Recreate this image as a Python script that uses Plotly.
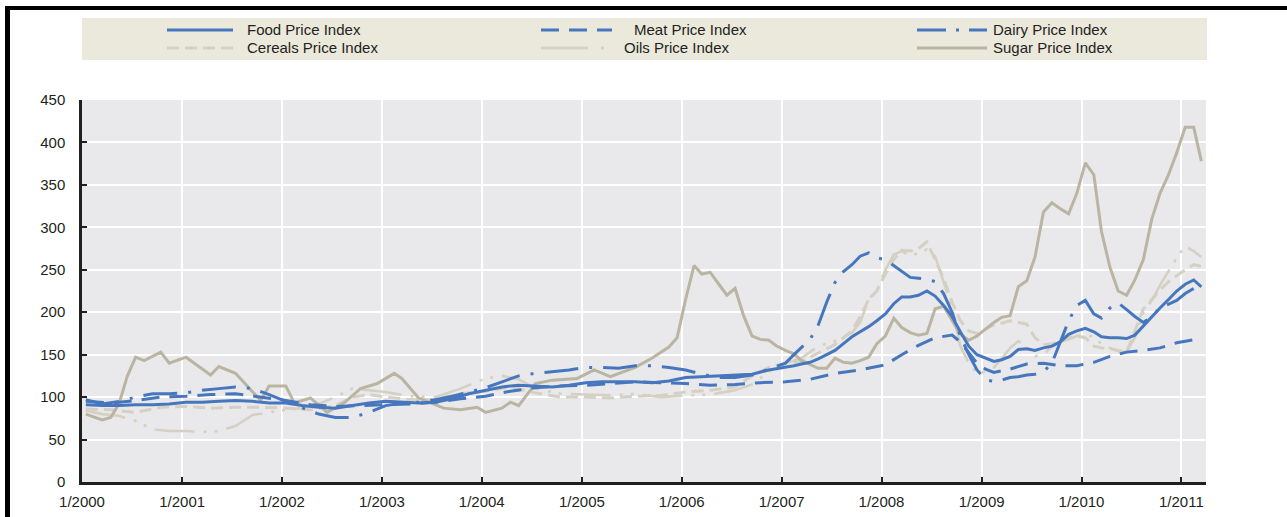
import pandas as pd
import plotly.graph_objects as go

# ---------------- data ----------------
food_months = ["2000-01","2000-03","2000-05","2000-07","2000-09","2000-11",
               "2001-01","2001-03","2001-05","2001-07","2001-09","2001-11",
               "2002-01","2002-03","2002-05","2002-07","2002-09","2002-11",
               "2003-01","2003-03","2003-05","2003-07","2003-09","2003-11",
               "2004-01","2004-03","2004-05","2004-07","2004-09","2004-11",
               "2005-01","2005-03","2005-05","2005-07","2005-09","2005-11",
               "2006-01","2006-03","2006-05","2006-07","2006-09","2006-11",
               "2007-01","2007-02","2007-03","2007-04","2007-05","2007-06","2007-07","2007-08","2007-09","2007-10","2007-11","2007-12",
               "2008-01","2008-02","2008-03","2008-04","2008-05","2008-06","2008-07","2008-08","2008-09","2008-10","2008-11","2008-12",
               "2009-01","2009-02","2009-03","2009-04","2009-05","2009-06","2009-07","2009-08","2009-09","2009-10","2009-11","2009-12",
               "2010-01","2010-02","2010-03","2010-04","2010-05","2010-06","2010-07","2010-08","2010-09","2010-10","2010-11","2010-12",
               "2011-01","2011-02","2011-03"]
food_index = [91, 90, 90, 91, 91, 92,
              94, 94, 95, 96, 95, 93,
              93, 90, 88, 87, 90, 93,
              95, 94, 93, 94, 98, 104,
              108, 112, 114, 113, 112, 114,
              117, 118, 118, 118, 117, 119,
              123, 124, 125, 126, 127, 132,
              135, 137, 139, 141, 145, 150, 155, 163, 171, 177, 183, 190,
              198, 210, 218, 218, 220, 225, 219, 208, 195, 177, 160, 150,
              146, 142, 144, 148, 156, 157, 155, 158, 160, 165, 174, 178,
              181, 177, 171, 170, 170, 169, 173, 184, 195, 205, 215, 225,
              233, 238, 230]

meat_months = ["2000-01","2000-04","2000-07","2000-10","2001-01","2001-04","2001-07","2001-10",
               "2002-01","2002-04","2002-07","2002-10","2003-01","2003-04","2003-07","2003-10",
               "2004-01","2004-04","2004-07","2004-10","2005-01","2005-04","2005-07","2005-10",
               "2006-01","2006-04","2006-07","2006-10","2007-01","2007-04","2007-07","2007-10",
               "2008-01","2008-03","2008-05","2008-07","2008-09","2008-10","2008-11","2008-12",
               "2009-01","2009-02","2009-04","2009-06","2009-08","2009-10","2009-12",
               "2010-02","2010-04","2010-06","2010-08","2010-10","2010-12","2011-03"]
meat_index = [95, 93, 96, 100, 101, 103, 104, 100,
              96, 91, 89, 90, 91, 92, 94, 98,
              101, 107, 111, 113, 114, 116, 118, 117,
              116, 114, 115, 117, 118, 121, 128, 132,
              138, 150, 161, 170, 173, 165, 152, 140,
              133, 129, 133, 139, 140, 137, 137,
              141, 148, 153, 155, 158, 164, 169]

dairy_months = ["2000-01","2000-03","2000-05","2000-07","2000-09","2000-11",
                "2001-01","2001-03","2001-05","2001-07","2001-09","2001-11",
                "2002-01","2002-03","2002-05","2002-07","2002-09","2002-11",
                "2003-01","2003-03","2003-05","2003-07","2003-09","2003-11",
                "2004-01","2004-03","2004-05","2004-07","2004-09","2004-11",
                "2005-01","2005-03","2005-05","2005-07","2005-09","2005-11",
                "2006-01","2006-03","2006-05","2006-07","2006-09","2006-11",
                "2007-01","2007-02","2007-03","2007-04","2007-05","2007-06","2007-07","2007-08","2007-09","2007-10","2007-11","2007-12",
                "2008-01","2008-02","2008-03","2008-04","2008-05","2008-06","2008-07","2008-08","2008-09","2008-10","2008-11","2008-12",
                "2009-01","2009-02","2009-03","2009-04","2009-05","2009-06","2009-07","2009-08","2009-09","2009-10","2009-11","2009-12",
                "2010-01","2010-02","2010-03","2010-04","2010-05","2010-06","2010-07","2010-08","2010-09","2010-10","2010-11","2010-12",
                "2011-01","2011-02"]
dairy_index = [97, 92, 95, 100, 104, 104,
               105, 108, 110, 112, 110, 103,
               95, 88, 80, 76, 76, 82,
               90, 93, 94, 97, 101, 106,
               111, 118, 125, 128, 130, 132,
               135, 135, 134, 137, 137, 135,
               132, 127, 123, 123, 126, 133,
               140, 150, 158, 168, 185, 212, 235, 248, 256, 266, 270, 264,
               262, 255, 248, 241, 240, 239, 236, 222, 200, 172, 150, 132,
               121, 118, 120, 123, 124, 126, 127, 130, 140, 165, 190, 208,
               214, 198, 193, 205, 211, 203, 195, 188, 195, 205, 210, 214,
               222, 228]

cereals_months = ["2000-01","2000-04","2000-07","2000-10","2001-01","2001-04","2001-07","2001-10",
                  "2002-01","2002-04","2002-07","2002-09","2002-11","2003-01","2003-04","2003-07","2003-10",
                  "2004-01","2004-04","2004-07","2004-10","2005-01","2005-04","2005-07","2005-10",
                  "2006-01","2006-04","2006-07","2006-09","2006-11",
                  "2007-01","2007-03","2007-05","2007-07","2007-09","2007-10","2007-11","2007-12",
                  "2008-01","2008-02","2008-03","2008-04","2008-05","2008-06","2008-07","2008-08","2008-09","2008-10","2008-11","2008-12",
                  "2009-01","2009-02","2009-03","2009-04","2009-05","2009-06","2009-07","2009-08","2009-09","2009-10","2009-11","2009-12",
                  "2010-01","2010-02","2010-03","2010-04","2010-05","2010-06","2010-07","2010-08","2010-09","2010-10","2010-11","2010-12",
                  "2011-01","2011-02","2011-03"]
cereals_index = [86, 85, 82, 88, 89, 87, 88, 88,
                 87, 85, 90, 100, 103, 100, 97, 97, 104,
                 107, 112, 105, 100, 100, 99, 101, 102,
                 106, 108, 112, 125, 135,
                 140, 142, 152, 162, 178, 195, 215, 225,
                 245, 262, 273, 272, 275, 283, 262, 240, 212, 190, 178, 175,
                 180, 185, 187, 190, 188, 186, 170, 162, 163, 165, 170, 172,
                 170, 160, 158, 157, 155, 153, 178, 204, 215, 226, 236, 243,
                 250, 256, 254]

oils_months = ["2000-01","2000-03","2000-05","2000-07","2000-09","2000-11",
               "2001-01","2001-03","2001-05","2001-07","2001-09","2001-11",
               "2002-01","2002-03","2002-05","2002-07","2002-09","2002-11",
               "2003-01","2003-04","2003-07","2003-10",
               "2004-01","2004-03","2004-05","2004-07","2004-10",
               "2005-01","2005-04","2005-07","2005-10",
               "2006-01","2006-04","2006-07","2006-09","2006-11",
               "2007-01","2007-03","2007-05","2007-07","2007-09","2007-10","2007-11","2007-12",
               "2008-01","2008-02","2008-03","2008-04","2008-05","2008-06","2008-07","2008-08","2008-09","2008-10","2008-11","2008-12",
               "2009-01","2009-02","2009-03","2009-04","2009-05","2009-06","2009-07","2009-08","2009-09","2009-10","2009-11","2009-12",
               "2010-01","2010-02","2010-03","2010-04","2010-05","2010-06","2010-07","2010-08","2010-09","2010-10","2010-11","2010-12",
               "2011-01","2011-02","2011-03"]
oils_index = [84, 80, 78, 72, 62, 60,
              60, 59, 60, 66, 79, 82,
              85, 87, 92, 100, 110, 108,
              106, 101, 100, 110,
              122, 125, 121, 110, 104,
              103, 102, 104, 100,
              102, 103, 108, 115, 130,
              140, 146, 160, 166, 176, 188, 215, 226,
              250, 268, 272, 266, 270, 274, 266, 235, 205, 160, 140, 128,
              130, 135, 145, 158, 166, 160, 148, 150, 160, 165, 168, 172,
              175, 170, 163, 158, 154, 153, 170, 200, 214, 232, 248, 264,
              278, 272, 265]

sugar_months = ["2000-01","2000-03","2000-04","2000-05","2000-06","2000-07","2000-08","2000-10","2000-11",
                "2001-01","2001-04","2001-05","2001-07","2001-10","2001-11",
                "2002-01","2002-02","2002-04","2002-06","2002-08","2002-10","2002-12",
                "2003-02","2003-03","2003-05","2003-08","2003-10","2003-12",
                "2004-01","2004-03","2004-04","2004-05","2004-07","2004-09","2004-12",
                "2005-02","2005-04","2005-07","2005-09","2005-11","2005-12",
                "2006-01","2006-02","2006-03","2006-04","2006-05","2006-06","2006-07","2006-08","2006-09","2006-10","2006-11","2006-12",
                "2007-01","2007-02","2007-03","2007-04","2007-05","2007-06","2007-07","2007-08","2007-09","2007-10","2007-11","2007-12",
                "2008-01","2008-02","2008-03","2008-04","2008-05","2008-06","2008-07","2008-08","2008-09","2008-10","2008-11","2008-12",
                "2009-01","2009-02","2009-03","2009-04","2009-05","2009-06","2009-07","2009-08","2009-09","2009-10","2009-11","2009-12",
                "2010-01","2010-02","2010-03","2010-04","2010-05","2010-06","2010-07","2010-08","2010-09","2010-10","2010-11","2010-12",
                "2011-01","2011-02","2011-03"]
sugar_index = [80, 73, 76, 92, 125, 147, 143, 153, 140,
               147, 126, 136, 128, 96, 113,
               113, 93, 99, 82, 93, 110, 116,
               128, 122, 99, 87, 85, 88,
               82, 87, 94, 90, 116, 120, 122,
               132, 124, 135, 146, 159, 170,
               215, 255, 245, 247, 234, 220, 228, 196, 172, 168, 167, 160,
               155, 151, 143, 138, 134, 134, 146, 141, 140, 143, 147, 163,
               172, 193, 182, 176, 173, 175, 204, 207, 190, 174, 167, 172,
               180, 188, 194, 196, 230, 237, 265, 318, 329, 322, 316, 340,
               376, 362, 295, 253, 225, 220, 238, 262, 310, 340, 362, 388,
               418, 418, 378]

year_ticks = ["2000-01-01","2001-01-01","2002-01-01","2003-01-01","2004-01-01","2005-01-01",
              "2006-01-01","2007-01-01","2008-01-01","2009-01-01","2010-01-01","2011-01-01"]
year_labels = ["1/2000","1/2001","1/2002","1/2003","1/2004","1/2005",
               "1/2006","1/2007","1/2008","1/2009","1/2010","1/2011"]
y_ticks = [0, 50, 100, 150, 200, 250, 300, 350, 400, 450]

# ---------------- styling ----------------
BLUE = "#4677be"
SUGAR = "#bab5a2"
LIGHT = "#d4d0c3"
DARK = "#231f20"
FONT = "Liberation Sans, Arial, sans-serif"

def mid(months):
    return pd.to_datetime([m + "-15" for m in months])

series = [
    ("Cereals Price Index", cereals_months, cereals_index, LIGHT, "12px,6px", 3),
    ("Oils Price Index", oils_months, oils_index, LIGHT, "40px,9px,3px,8px,3px,9px", 2.6),
    ("Sugar Price Index", sugar_months, sugar_index, SUGAR, "solid", 3),
    ("Meat Price Index", meat_months, meat_index, BLUE, "18px,10px", 3),
    ("Dairy Price Index", dairy_months, dairy_index, BLUE, "34px,11px,3px,11px", 3),
    ("Food Price Index", food_months, food_index, BLUE, "solid", 3),
]

fig = go.Figure()
for name, months, vals, col, dash, w in series:
    fig.add_trace(go.Scatter(x=mid(months), y=vals, name=name, mode="lines",
                             line=dict(color=col, width=w, dash=dash),
                             showlegend=False, hoverinfo="x+y+name"))

W, H = 1287, 517
L, R, T, B = 82, 1206, 100, 482

def px(xp):
    return (xp - L) / (R - L)

def py(yp):
    return (B - yp) / (B - T)

shapes = []
annotations = []
# outer black frame (top and left bars)
shapes.append(dict(type="rect", xref="paper", yref="paper", x0=px(5), x1=px(1290), y0=py(10), y1=py(6),
                   fillcolor="black", line=dict(width=0), layer="above"))
shapes.append(dict(type="rect", xref="paper", yref="paper", x0=px(5), x1=px(10), y0=py(520), y1=py(6),
                   fillcolor="black", line=dict(width=0), layer="above"))
# legend background
shapes.append(dict(type="rect", xref="paper", yref="paper", x0=px(82), x1=px(1207), y0=py(60), y1=py(18),
                   fillcolor="#ebe8dc", line=dict(width=0), layer="below"))

legend_items = [
    ("Food Price Index", BLUE, "solid", 3, 167, 233, 245, 30),
    ("Meat Price Index", BLUE, "18px,10px", 3, 541, 612, 632, 30),
    ("Dairy Price Index", BLUE, "29px,10px,3px,10px,30px", 3, 917, 987, 991, 30),
    ("Cereals Price Index", LIGHT, "12px,6px", 3, 167, 233, 245, 48),
    ("Oils Price Index", LIGHT, "47px,13px,3px,9px,3px,9px", 3, 541, 612, 622, 48),
    ("Sugar Price Index", SUGAR, "solid", 3, 917, 987, 991, 48),
]
for text, col, dash, w, x0, x1, xt, yy in legend_items:
    shapes.append(dict(type="line", xref="paper", yref="paper", x0=px(x0), x1=px(x1), y0=py(yy), y1=py(yy),
                       line=dict(color=col, width=w, dash=dash), layer="above"))
    annotations.append(dict(text=text, xref="paper", yref="paper", x=px(xt), y=py(yy),
                            xanchor="left", yanchor="middle", showarrow=False,
                            font=dict(family=FONT, size=15, color=DARK)))

fig.update_layout(
    width=W, height=H, autosize=False,
    margin=dict(l=L, r=W - R, t=T, b=H - B, pad=0, autoexpand=False),
    paper_bgcolor="white", plot_bgcolor="#e9e9eb",
    font=dict(family=FONT, size=15, color=DARK),
    shapes=shapes, annotations=annotations, showlegend=False,
    xaxis=dict(type="date", range=["2000-01-01", "2011-04-01"], automargin=False,
               tickmode="array", tickvals=year_ticks, ticktext=year_labels,
               ticks="inside", ticklen=5, tickwidth=1.5, tickcolor=DARK,
               showline=True, linecolor=DARK, linewidth=3,
               showgrid=True, gridcolor="white", gridwidth=2,
               zeroline=False, ticklabelstandoff=4,
               tickfont=dict(family=FONT, size=15, color=DARK)),
    yaxis=dict(range=[0, 450], tickmode="array", tickvals=y_ticks, automargin=False,
               ticks="inside", ticklen=5, tickwidth=1.5, tickcolor=DARK,
               showline=True, linecolor=DARK, linewidth=2.5,
               showgrid=True, gridcolor="white", gridwidth=2,
               zeroline=False, ticklabelstandoff=11,
               tickfont=dict(family=FONT, size=15, color=DARK)),
)

fig.write_html("out.html", config={"displayModeBar": False},
               post_script="document.body.style.margin='0';document.body.style.padding='0';")
